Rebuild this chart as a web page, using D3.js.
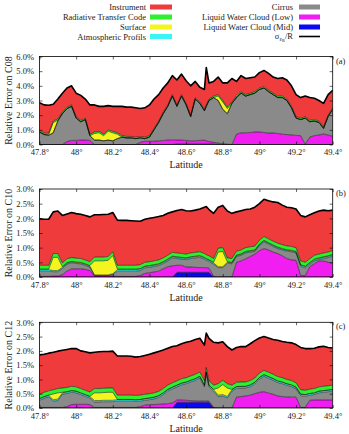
<!DOCTYPE html>
<html>
<head>
<meta charset="utf-8">
<script src="https://cdn.jsdelivr.net/npm/d3@7"></script>
<style>
  body { margin: 0; background: #fff; }
  svg { display: block; font-family: "Liberation Serif", "DejaVu Serif", serif; }
</style>
</head>
<body>
<svg id="chart" width="349" height="434"></svg>
<script>
// Stacked error budget along the flight track, three channels.

const latitude = [
  47.8, 47.825, 47.85, 47.875, 47.9, 47.925, 47.95, 47.975, 48.0, 48.025, 48.05, 48.075,
  48.1, 48.125, 48.15, 48.175, 48.2, 48.225, 48.25, 48.275, 48.3, 48.325,
  48.35, 48.375, 48.4, 48.425, 48.45, 48.475, 48.5, 48.525,
  48.55, 48.575, 48.6, 48.625, 48.65, 48.675, 48.7, 48.71, 48.725, 48.75,
  48.775, 48.8, 48.825, 48.85,
  48.875, 48.9, 48.925, 48.95, 48.975, 49.0, 49.025, 49.05, 49.075, 49.1, 49.125, 49.15, 49.175, 49.2, 49.225,
  49.25, 49.275, 49.3, 49.325, 49.35, 49.375, 49.4,
];

const lat_ticks = [47.8, 48.0, 48.2, 48.4, 48.6, 48.8, 49.0, 49.2, 49.4];
const lat_tick_labels = ["47.8°", "48°", "48.2°", "48.4°", "48.6°", "48.8°", "49°", "49.2°", "49.4°"];

// C08 (a)
const c08_mid = [
  0,0,0,0,0,0,0,0,0,0,0,0, 0,0,0,0,0,0,0,0,0,0, 0,0,0,0,0,0,0,0,
  0.03,0.03,0.03,0.03,0.03,0.03,0.03,0.03,0.03,0.03,
  0,0,0,0, 0,0,0,0,0,0,0,0,0,0,0,0,0,0,0, 0,0,0,0,0,0,0,
];
const c08_low = [
  0,0,0,0,0,0, 0.2,0.28,0.28,0.3,0.3,0.28,
  0,0,0,0,0,0,0,0,0,0,
  0.15,0.22,0.22,0.22,0.25,0.28,0.3,0.32,
  0.27,0.27,0.25,0.22,0.22,0.25,0.27,0.22,0.17,0.12,
  0.1,0.05,0.02,0,
  0.7,0.8,0.8,0.82,0.85,0.85,0.82,0.78,0.78,0.75,0.7,0.68,0.65,0.62,0.6,
  0.02,0.5,0.6,0.65,0.72,0.65,0.55,
];
const c08_cirrus = [
  0.85,0.68,0.62,0.8,1.6,2.1,2.25,2.32,1.52,1.25,1.4,0.32,
  0.3,0.3,0.25,0.3,0.25,0.4,0.5,0.45,0.45,0.4,
  0.3,0.18,0.28,0.78,1.25,1.82,2.3,2.98,
  2.3,3.0,2.42,1.65,2.85,2.52,2.0,2.35,2.8,3.05,
  2.9,2.35,2.08,2.8,
  2.5,2.7,2.5,2.58,2.65,2.9,3.03,2.82,2.62,2.45,2.5,2.32,1.85,1.18,1.1,
  1.78,1.05,1.0,0.85,0.38,1.25,1.85,
];
const c08_atmos = [
  0,0,0,0,0,0,0,0,0,0,0,0, 0,0,0,0,0,0,0,0,0,0, 0,0,0,0,0,0,0,0,
  0,0,0,0,0,0,0,0,0,0, 0,0,0,0, 0,0,0,0,0,0,0,0,0,0,0,0,0,0,0, 0,0,0,0,0,0,0,
];
const c08_surface = [
  0,0,0.05,0.7,0.05,0,0,0,0,0,0,0,
  0.45,0.5,0.35,0.6,0.55,0.3,0,0,0,0,
  0,0,0,0,0,0,0,0,
  0,0,0,0,0,0,0,0,0,0,
  0.3,0.5,0.35,0,
  0,0,0,0,0,0,0,0,0,0,0,0,0,0,0, 0,0,0,0,0,0,0,
];
const c08_rtc = [
  0.1,0.1,0.1,0.1,0.1,0.1,0.1,0.1,0.1,0.1,0.1,0.1,
  0.1,0.1,0.1,0.1,0.1,0.1,0.1,0.1,0.1,0.1,
  0.1,0.1,0.1,0.1,0.1,0.1,0.1,0.1,
  0.1,0.1,0.1,0.1,0.1,0.1,0.1,0.1,0.1,0.1,
  0.1,0.1,0.1,0.1,
  0.1,0.1,0.1,0.1,0.1,0.1,0.1,0.1,0.1,0.1,0.1,0.1,0.1,0.1,0.1,
  0.1,0.1,0.1,0.1,0.1,0.1,0.1,
];
const c08_instrument = [
  1.9,1.92,1.91,1.15,1.35,1.3,1.3,1.3,1.6,1.7,1.3,2.0,
  1.85,1.7,1.9,1.65,1.7,1.8,2.0,2.0,2.0,2.0,
  1.9,2.0,2.1,2.0,1.8,1.65,1.5,1.3,
  1.7,1.4,1.55,2.0,1.1,1.0,1.35,2.55,1.1,1.0,
  1.2,1.2,1.65,1.6,
  1.0,1.1,1.1,1.05,1.0,1.05,1.1,1.15,1.1,1.2,1.25,1.3,1.4,1.5,1.4,
  1.4,1.55,1.45,1.4,1.6,1.4,1.2,
];

// C10 (b)
const c10_mid = [
  0,0,0,0,0,0,0,0,0,0,0,0, 0,0,0,0,0,0,0,0,0,0, 0,0,0,0,0,0,0,0,
  0.16,0.16,0.16,0.16,0.16,0.16,0.16,0.16,0.16,0,
  0,0,0,0, 0,0,0,0,0,0,0,0,0,0,0,0,0,0,0, 0,0,0,0,0,0,0,
];
const c10_low = [
  0.02,0.02,0.02,0.03,0.03, 0.08,0.2,0.28,0.28,0.28,0.26,0.22,
  0.03,0.03,0.03,0.03,0.03, 0.02,0.02,0.02,0.02,0.02,
  0.05,0.12,0.15,0.17,0.2,0.28,0.35,0.38,
  0.24,0.24,0.18,0.18,0.17,0.16,0.16,0.16,0.14,0.02,
  0,0,0,0,
  0.5,0.55,0.62,0.7,0.78,0.9,0.97,0.92,0.85,0.8,0.72,0.63,0.58,0.57,0.05,
  0.05,0.35,0.45,0.55,0.55,0.5,0.48,
];
const c10_cirrus = [
  0.18,0.18,0.18,0.15,0.15, 0.21,0.24,0.2,0.18,0.17,0.14,0.12,
  0.02,0.02,0.02,0.02,0.06, 0.18,0.18,0.18,0.18,0.18,
  0.17,0.19,0.18,0.19,0.19,0.18,0.2,0.27,
  0.23,0.21,0.25,0.29,0.32,0.35,0.29,0.25,0.23,0.42,
  0.32,0.32,0.47,0.45,
  0.2,0.19,0.2,0.15,0.09,0.17,0.23,0.2,0.19,0.17,0.2,0.25,0.28,0.25,0.31,
  0.26,0.08,0.1,0.04,0.08,0.16,0.23,
];
const c10_atmos = [
  0.05,0.05,0.05,0.04,0.04, 0.04,0.03,0.03,0.03,0.03,0.03,0.03,
  0.02,0.02,0.02,0.02,0.02, 0.05,0.05,0.05,0.05,0.05,
  0.05,0.04,0.04,0.04,0.04,0.04,0.04,0.04,
  0.04,0.04,0.04,0.04,0.04,0.04,0.04,0.04,0.04,0.04,
  0.03,0.03,0.03,0.03,
  0.03,0.03,0.03,0.03,0.03,0.03,0.03,0.03,0.03,0.03,0.03,0.03,0.03,0.03,0.04,
  0.04,0.04,0.04,0.04,0.04,0.04,0.04,
];
const c10_surface = [
  0.02,0.02,0.02,0.45,0.45, 0.02,0.02,0.02,0.02,0.02,0.02,0.02,
  0.48,0.48,0.48,0.5,0.62, 0.02,0.02,0.02,0.02,0.02,
  0.02,0.02,0.02,0.02,0.02,0.02,0.02,0.02,
  0.02,0.02,0.02,0.02,0.02,0.02,0.02,0.02,0.02,0.02,
  0.5,0.52,0.02,0.02,
  0.02,0.02,0.02,0.02,0.02,0.02,0.02,0.02,0.02,0.02,0.02,0.02,0.02,0.02,0.02,
  0.02,0.02,0.02,0.02,0.02,0.02,0.02,
];
const c10_rtc = [
  0.13,0.13,0.13,0.13,0.13,0.13,0.13,0.13,0.13,0.13,0.13,0.13,
  0.13,0.13,0.13,0.13,0.13,0.13,0.13,0.13,0.13,0.13,
  0.13,0.13,0.13,0.13,0.13,0.13,0.13,0.13,
  0.13,0.13,0.13,0.13,0.13,0.13,0.13,0.13,0.13,0.13,
  0.13,0.13,0.13,0.13,
  0.13,0.13,0.13,0.13,0.13,0.13,0.13,0.13,0.13,0.13,0.13,0.13,0.13,0.13,0.13,
  0.13,0.13,0.13,0.13,0.13,0.13,0.13,
];
const c10_instrument = [
  1.58,1.57,1.57,1.42,1.45, 1.62,1.53,1.54,1.52,1.51,1.52,1.53,
  1.44,1.44,1.45,1.44,1.34, 1.54,1.53,1.53,1.52,1.51,
  1.48,1.47,1.48,1.48,1.48,1.45,1.43,1.38,
  1.45,1.5,1.48,1.43,1.44,1.46,1.58,1.64,1.58,1.54,
  1.4,1.44,1.6,1.54,
  1.34,1.34,1.3,1.29,1.33,1.25,1.27,1.3,1.34,1.39,1.35,1.32,1.32,1.32,1.55,
  1.55,1.5,1.45,1.47,1.46,1.41,1.38,
];

// C12 (c)
const c12_mid = [
  0,0,0,0,0,0,0,0,0,0,0,0, 0,0,0,0,0,0,0,0,0,0, 0,0,0,0,0,0,0,0,
  0.2,0.2,0.2,0.2,0.2,0.2,0.2,0.2,0.2,0,
  0,0,0,0, 0,0,0,0,0,0,0,0,0,0,0,0,0,0,0, 0,0,0,0,0,0,0,
];
const c12_low = [
  0.02,0.02,0.02,0.02,0.02,0.02, 0.05,0.12,0.13,0.13,0.13,0.12,
  0.02,0.02,0.02,0.02,0.02,0.02,0.02,0.02,0.02,0.02,
  0.05,0.1,0.12,0.12,0.13,0.14,0.15,0.18,
  0.08,0.08,0.07,0.06,0.05,0.05,0.05,0.05,0.04,0.02,
  0,0,0,0,
  0.38,0.4,0.42,0.45,0.5,0.55,0.57,0.52,0.48,0.42,0.4,0.39,0.38,0.38,0.02,
  0.02,0.27,0.28,0.28,0.28,0.28,0.28,
];
const c12_cirrus = [
  0.25,0.32,0.37,0.22,0.24,0.46, 0.46,0.43,0.4,0.34,0.28,0.23,
  0.19,0.19,0.2,0.2,0.2,0.22,0.22,0.22,0.22,0.21,
  0.19,0.17,0.17,0.2,0.24,0.33,0.44,0.49,
  0.46,0.53,0.58,0.65,0.72,0.8,0.49,0.96,0.5,0.57,
  0.4,0.42,0.35,0.59,
  0.31,0.3,0.28,0.3,0.34,0.46,0.54,0.52,0.49,0.47,0.45,0.4,0.37,0.29,0.41,
  0.39,0.18,0.19,0.25,0.27,0.29,0.31,
];
const c12_atmos = [
  0.05,0.05,0.05,0.05,0.05,0.05,0.05,0.05,0.05,0.05,0.05,0.05,
  0.05,0.05,0.05,0.05,0.05,0.05,0.05,0.05,0.05,0.05,
  0.05,0.05,0.05,0.05,0.05,0.05,0.05,0.05,
  0.05,0.05,0.05,0.05,0.05,0.05,0.05,0.05,0.05,0.05,
  0.05,0.05,0.05,0.05,
  0.05,0.05,0.05,0.05,0.05,0.05,0.05,0.05,0.05,0.05,0.05,0.05,0.05,0.05,0.05,
  0.05,0.05,0.05,0.05,0.05,0.05,0.05,
];
const c12_surface = [
  0.01,0.01,0.01,0.2,0.22,0.02, 0.01,0.01,0.01,0.01,0.01,0.01,
  0.27,0.27,0.27,0.28,0.28,0.01,0.01,0.01,0.01,0.01,
  0.01,0.01,0.01,0.01,0.01,0.01,0.01,0.01,
  0.01,0.01,0.01,0.01,0.01,0.01,0.01,0.01,0.01,0.01,
  0.25,0.35,0.3,0.01,
  0.01,0.01,0.01,0.01,0.01,0.01,0.01,0.01,0.01,0.01,0.01,0.01,0.01,0.01,0.01,
  0.01,0.01,0.01,0.01,0.01,0.01,0.01,
];
const c12_rtc = [
  0.15,0.15,0.15,0.15,0.15,0.15,0.15,0.15,0.15,0.15,0.15,0.15,
  0.15,0.15,0.15,0.15,0.15,0.15,0.15,0.15,0.15,0.15,
  0.15,0.15,0.15,0.15,0.15,0.15,0.15,0.15,
  0.15,0.15,0.15,0.15,0.15,0.15,0.15,0.15,0.15,0.15,
  0.15,0.15,0.15,0.15,
  0.15,0.15,0.15,0.15,0.15,0.15,0.15,0.15,0.15,0.15,0.15,0.15,0.15,0.15,0.15,
  0.15,0.15,0.15,0.15,0.15,0.15,0.15,
];
const c12_instrument = [
  1.38,1.33,1.32,1.31,1.31,1.32, 1.33,1.32,1.34,1.32,1.35,1.37,
  1.27,1.29,1.29,1.28,1.29,1.37,1.37,1.37,1.36,1.34,
  1.35,1.36,1.38,1.4,1.4,1.35,1.29,1.27,
  1.23,1.23,1.24,1.22,1.22,1.18,1.25,1.2,1.49,1.5,
  1.43,1.35,1.3,1.23,
  1.22,1.24,1.24,1.29,1.31,1.23,1.18,1.2,1.22,1.27,1.27,1.3,1.32,1.34,1.48,
  1.46,1.42,1.41,1.4,1.4,1.34,1.3,
];

// stacking order, bottom to top
const layer_keys = ["mid", "low", "cirrus", "atmos", "surface", "rtc", "instrument"];
const layer_colors = {
  instrument: "#ef3b3b",
  rtc: "#2ef02e",
  surface: "#f4f41e",
  atmos: "#3cf4f4",
  cirrus: "#8a8a8a",
  low: "#f01ef0",
  mid: "#0a0af0",
};

const panels = [
  { channel: "C08", tag: "(a)", top: 56.5, bottom: 144.5, y_max: 6, y_step: 1,
    series: { mid: c08_mid, low: c08_low, cirrus: c08_cirrus, atmos: c08_atmos, surface: c08_surface, rtc: c08_rtc, instrument: c08_instrument } },
  { channel: "C10", tag: "(b)", top: 189, bottom: 277, y_max: 3, y_step: 0.5,
    series: { mid: c10_mid, low: c10_low, cirrus: c10_cirrus, atmos: c10_atmos, surface: c10_surface, rtc: c10_rtc, instrument: c10_instrument } },
  { channel: "C12", tag: "(c)", top: 322.3, bottom: 408, y_max: 3, y_step: 0.5,
    series: { mid: c12_mid, low: c12_low, cirrus: c12_cirrus, atmos: c12_atmos, surface: c12_surface, rtc: c12_rtc, instrument: c12_instrument } },
];

const svg = d3.select("#chart");
const plot_left = 39.5;
const plot_right = 332.7;
const x = d3.scaleLinear().domain([47.8, 49.4]).range([plot_left, plot_right]);

panels.forEach((panel, panel_index) => {
  const y = d3.scaleLinear().domain([0, panel.y_max]).range([panel.bottom, panel.top]);
  const rows = latitude.map((lat, index) => {
    const row = { lat };
    layer_keys.forEach((key) => { row[key] = panel.series[key][index]; });
    return row;
  });
  const stacked = d3.stack().keys(layer_keys)(rows);

  const clip_id = `clip_${panel_index}`;
  svg.append("clipPath").attr("id", clip_id)
    .append("rect")
    .attr("x", plot_left).attr("y", panel.top)
    .attr("width", plot_right - plot_left).attr("height", panel.bottom - panel.top);

  const area = d3.area()
    .x((d) => x(d.data.lat))
    .y0((d) => y(d[0]))
    .y1((d) => y(d[1]));
  const edge = d3.line()
    .x((d) => x(d.data.lat))
    .y((d) => y(d[1]));

  const body = svg.append("g").attr("clip-path", `url(#${clip_id})`);
  body.selectAll("path.layer")
    .data(stacked)
    .join("path")
    .attr("class", "layer")
    .attr("d", area)
    .attr("fill", (layer) => layer_colors[layer.key]);
  body.selectAll("path.edge")
    .data(stacked)
    .join("path")
    .attr("class", "edge")
    .attr("d", edge)
    .attr("fill", "none")
    .attr("stroke", "#000")
    .attr("stroke-width", (layer) => layer.key === "instrument" ? 1.6 : 0.5)
    .attr("stroke-linejoin", "round");

  const tick_values = d3.range(0, panel.y_max + panel.y_step / 2, panel.y_step);
  const bottom_axis = svg.append("g")
    .attr("transform", `translate(0,${panel.bottom})`)
    .call(d3.axisBottom(x).tickValues(lat_ticks).tickSize(-3).tickPadding(4.5)
      .tickFormat((d, i) => lat_tick_labels[i]));
  svg.append("g")
    .attr("transform", `translate(0,${panel.top})`)
    .call(d3.axisTop(x).tickValues(lat_ticks).tickSize(-3).tickFormat(""));
  const left_axis = svg.append("g")
    .attr("transform", `translate(${plot_left},0)`)
    .call(d3.axisLeft(y).tickValues(tick_values).tickSize(-3).tickPadding(5.5)
      .tickFormat((d) => `${d.toFixed(1)}%`));
  svg.append("g")
    .attr("transform", `translate(${plot_right},0)`)
    .call(d3.axisRight(y).tickValues(tick_values).tickSize(-3).tickFormat(""));

  svg.selectAll(".domain").remove();
  svg.selectAll(".tick line").attr("stroke", "#000").attr("stroke-width", 0.6);
  [bottom_axis, left_axis].forEach((axis) => axis.selectAll("text")
    .attr("font-family", "Liberation Serif, serif")
    .attr("font-size", 8.5)
    .attr("fill", "#222"));

  svg.append("rect")
    .attr("x", plot_left).attr("y", panel.top)
    .attr("width", plot_right - plot_left).attr("height", panel.bottom - panel.top)
    .attr("fill", "none").attr("stroke", "#000").attr("stroke-width", 0.8);

  svg.append("text")
    .attr("x", 336).attr("y", panel.top + 7)
    .attr("font-size", 8.5).attr("fill", "#222")
    .text(panel.tag);

  svg.append("text")
    .attr("transform", "rotate(-90)")
    .attr("x", -(panel.top + panel.bottom) / 2)
    .attr("y", 11.5)
    .attr("text-anchor", "middle")
    .attr("font-size", 10).attr("fill", "#222")
    .text(`Relative Error on ${panel.channel}`);

  svg.append("text")
    .attr("x", (plot_left + plot_right) / 2)
    .attr("y", panel.bottom + 23.5)
    .attr("text-anchor", "middle")
    .attr("font-size", 10).attr("fill", "#222")
    .text("Latitude");
});

// legend
const legend_left = [
  ["Instrument", "instrument"],
  ["Radiative Transfer Code", "rtc"],
  ["Surface", "surface"],
  ["Atmospheric Profils", "atmos"],
];
const legend_right = [
  ["Cirrus", "cirrus"],
  ["Liquid Water Cloud (Low)", "low"],
  ["Liquid Water Cloud (Mid)", "mid"],
];
const legend_rows = [7, 17, 27, 36.5];
const legend = svg.append("g").attr("font-size", 8.5).attr("fill", "#222");

legend_left.forEach(([label, key], i) => {
  legend.append("text").attr("x", 146).attr("y", legend_rows[i] + 3)
    .attr("text-anchor", "end").text(label);
  legend.append("rect").attr("x", 150).attr("y", legend_rows[i] - 2.5)
    .attr("width", 22).attr("height", 5).attr("fill", layer_colors[key]);
});
legend_right.forEach(([label, key], i) => {
  legend.append("text").attr("x", 293).attr("y", legend_rows[i] + 3)
    .attr("text-anchor", "end").text(label);
  legend.append("rect").attr("x", 299).attr("y", legend_rows[i] - 2.5)
    .attr("width", 21).attr("height", 5).attr("fill", layer_colors[key]);
});
const sigma = legend.append("text").attr("x", 293).attr("y", legend_rows[3] + 2).attr("text-anchor", "end");
sigma.append("tspan").text("σ");
sigma.append("tspan").attr("dy", 2).attr("font-size", 6).text("ε");
sigma.append("tspan").attr("dy", 1.5).attr("font-size", 4.5).text("R");
sigma.append("tspan").attr("dy", -3.5).text("/R");
legend.append("line")
  .attr("x1", 299).attr("x2", 320)
  .attr("y1", legend_rows[3]).attr("y2", legend_rows[3])
  .attr("stroke", "#000").attr("stroke-width", 1.6);
</script>
</body>
</html>
